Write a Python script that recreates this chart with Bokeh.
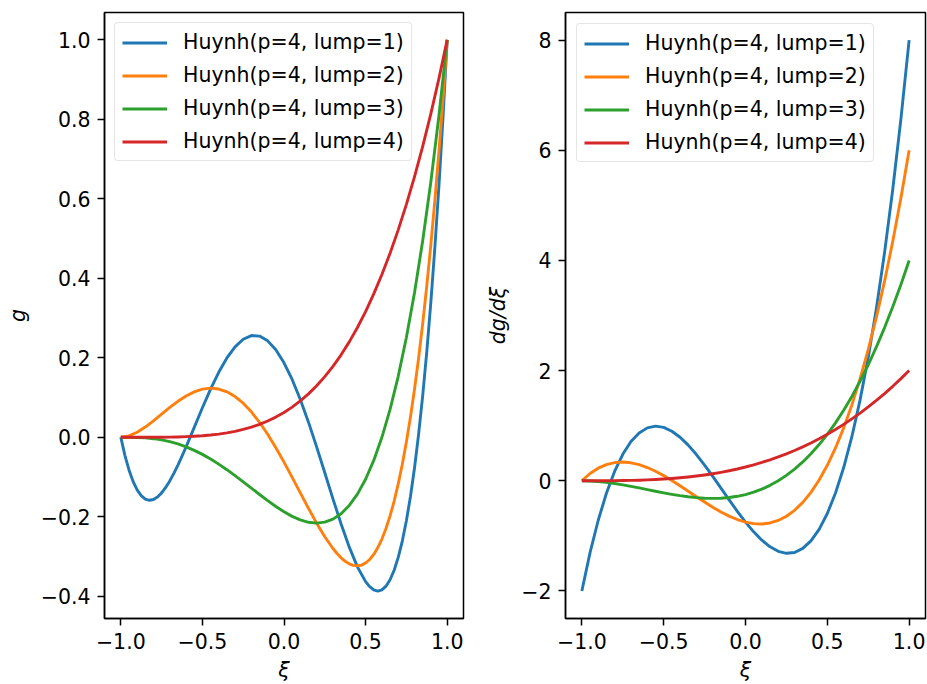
from bokeh.plotting import figure
from bokeh.layouts import row
from bokeh.models import Range1d, FixedTicker, CustomJSTickFormatter
from bokeh.embed import file_html
from bokeh.resources import INLINE

# ---------------- data ----------------
xi = [-1.0, -0.95, -0.9, -0.85, -0.8, -0.75, -0.7, -0.65, -0.6, -0.55, -0.5,
      -0.45, -0.4, -0.35, -0.3, -0.25, -0.2, -0.15, -0.1, -0.05, 0.0,
      0.05, 0.1, 0.15, 0.2, 0.25, 0.3, 0.35, 0.4, 0.45, 0.5,
      0.55, 0.6, 0.65, 0.7, 0.75, 0.8, 0.85, 0.9, 0.95, 1.0]

# lump=1 curve is read more densely where it bends sharply
xi_g1 = [-1.0, -0.975, -0.95, -0.925, -0.9, -0.875, -0.85, -0.825, -0.8, -0.775, -0.75,
         -0.725, -0.7, -0.675, -0.65, -0.625, -0.6,
         -0.55, -0.5, -0.45, -0.4, -0.35, -0.3, -0.25, -0.2, -0.15, -0.1, -0.05, 0.0,
         0.05, 0.1, 0.15, 0.2, 0.25, 0.3, 0.35, 0.4, 0.45, 0.5,
         0.525, 0.55, 0.575, 0.6, 0.625, 0.65, 0.675, 0.7, 0.725, 0.75, 0.775, 0.8,
         0.825, 0.85, 0.875, 0.9, 0.925, 0.95, 0.975, 1.0]
g_lump1 = [0.0, -0.0454, -0.0822, -0.1109, -0.1323, -0.1469, -0.1555, -0.1585, -0.1565, -0.1501, -0.1399,
           -0.1263, -0.1098, -0.0909, -0.0700, -0.0476, -0.0240,
           0.0250, 0.0742, 0.1211, 0.1635, 0.1996, 0.2277, 0.2468, 0.2560, 0.2547, 0.2427, 0.2202, 0.1875,
           0.1455, 0.0952, 0.0381, -0.0240, -0.0891, -0.1548, -0.2183, -0.2765, -0.3261, -0.3633,
           -0.3760, -0.3841, -0.3869, -0.3840, -0.3747, -0.3584, -0.3345, -0.3023, -0.2611, -0.2102, -0.1489, -0.0765,
           0.0078, 0.1049, 0.2154, 0.3402, 0.4802, 0.6363, 0.8092, 1.0]

xi_g2 = [-1.0, -0.95, -0.9, -0.85, -0.8, -0.75, -0.7, -0.65, -0.6, -0.55, -0.5,
         -0.45, -0.4, -0.35, -0.3, -0.25, -0.2, -0.15, -0.1, -0.05, 0.0,
         0.05, 0.1, 0.15, 0.2, 0.25, 0.3,
         0.325, 0.35, 0.375, 0.4, 0.425, 0.45, 0.475, 0.5, 0.525, 0.55, 0.575, 0.6, 0.625, 0.65,
         0.675, 0.7, 0.725, 0.75, 0.775, 0.8, 0.825, 0.85, 0.875, 0.9, 0.925, 0.95, 0.975, 1.0]
g_lump2 = [0.0, 0.0034, 0.0126, 0.0258, 0.0415, 0.0584, 0.0751, 0.0906, 0.1040, 0.1144, 0.1211,
           0.1236, 0.1215, 0.1145, 0.1026, 0.0857, 0.0640, 0.0378, 0.0076, -0.0261, -0.0625,
           -0.1008, -0.1399, -0.1787, -0.2160, -0.2502, -0.2799,
           -0.2925, -0.3033, -0.3120, -0.3185, -0.3224, -0.3236, -0.3217, -0.3164, -0.3075, -0.2947,
           -0.2776, -0.2560, -0.2295, -0.1978, -0.1606, -0.1174, -0.0680, -0.0120, 0.0511, 0.1215,
           0.1997, 0.2861, 0.3811, 0.4851, 0.5986, 0.7219, 0.8556, 1.0]

g_lump3 = [0.0, -0.0001, -0.0005, -0.0015, -0.0035, -0.0066, -0.0110, -0.0168, -0.0240, -0.0328, -0.0430,
           -0.0546, -0.0675, -0.0815, -0.0965, -0.1121, -0.1280, -0.1439, -0.1595, -0.1742, -0.1875,
           -0.1990, -0.2080, -0.2139, -0.2160, -0.2136, -0.2060, -0.1922, -0.1715, -0.1429, -0.1055,
           -0.0582, 0.0, 0.0702, 0.1535, 0.2512, 0.3645, 0.4947, 0.6430, 0.8110, 1.0]
g_lump4 = [0.0, 0.0, 0.0, 0.0, 0.0001, 0.0002, 0.0005, 0.0009, 0.0016, 0.0026, 0.0039,
           0.0057, 0.0081, 0.0112, 0.0150, 0.0198, 0.0256, 0.0326, 0.0410, 0.0509, 0.0625,
           0.0760, 0.0915, 0.1093, 0.1296, 0.1526, 0.1785, 0.2076, 0.2401, 0.2763, 0.3164,
           0.3608, 0.4096, 0.4633, 0.5220, 0.5862, 0.6561, 0.7321, 0.8145, 0.9037, 1.0]

dg_lump1 = [-2.0, -1.3052, -0.7163, -0.2267, 0.1700, 0.4805, 0.7113, 0.8689, 0.9600, 0.9911, 0.9688,
            0.8995, 0.7900, 0.6467, 0.4763, 0.2852, 0.0800, -0.1327, -0.3463, -0.5542, -0.7500,
            -0.9270, -1.0788, -1.1986, -1.2800, -1.3164, -1.3013, -1.2280, -1.0900, -0.8808, -0.5938,
            -0.2223, 0.2400, 0.7999, 1.4638, 2.2383, 3.1300, 4.1455, 5.2913, 6.5739, 8.0]
dg_lump2 = [0.0, 0.1317, 0.2288, 0.2939, 0.3300, 0.3398, 0.3263, 0.2920, 0.2400, 0.1730, 0.0938,
            0.0052, -0.0900, -0.1889, -0.2888, -0.3867, -0.4800, -0.5658, -0.6413, -0.7036, -0.7500,
            -0.7777, -0.7838, -0.7655, -0.7200, -0.6445, -0.5363, -0.3923, -0.2100, 0.0136, 0.2813,
            0.5958, 0.9600, 1.3767, 1.8488, 2.3789, 2.9700, 3.6248, 4.3463, 5.1370, 6.0]
dg_lump3 = [0.0, -0.0036, -0.0138, -0.0295, -0.0500, -0.0742, -0.1013, -0.1302, -0.1600, -0.1898, -0.2188,
            -0.2458, -0.2700, -0.2905, -0.3063, -0.3164, -0.3200, -0.3161, -0.3038, -0.2820, -0.2500,
            -0.2067, -0.1513, -0.0827, 0.0, 0.0977, 0.2113, 0.3417, 0.4900, 0.6570, 0.8438,
            1.0511, 1.2800, 1.5314, 1.8063, 2.1055, 2.4300, 2.7808, 3.1588, 3.5648, 4.0]
dg_lump4 = [0.0, 0.0, 0.0003, 0.0008, 0.0020, 0.0039, 0.0068, 0.0107, 0.0160, 0.0228, 0.0313,
            0.0416, 0.0540, 0.0687, 0.0858, 0.1055, 0.1280, 0.1535, 0.1823, 0.2143, 0.2500,
            0.2894, 0.3328, 0.3802, 0.4320, 0.4883, 0.5493, 0.6151, 0.6860, 0.7622, 0.8438,
            0.9310, 1.0240, 1.1230, 1.2283, 1.3398, 1.4580, 1.5829, 1.7148, 1.8537, 2.0]

series_labels = ["Huynh(p=4, lump=1)", "Huynh(p=4, lump=2)",
                 "Huynh(p=4, lump=3)", "Huynh(p=4, lump=4)"]
colors = ["#1f77b4", "#ff7f0e", "#2ca02c", "#d62728"]

x_ticks = [-1.0, -0.5, 0.0, 0.5, 1.0]
g_ticks = [-0.4, -0.2, 0.0, 0.2, 0.4, 0.6, 0.8, 1.0]
dg_ticks = [-2, 0, 2, 4, 6, 8]

FONT = "DejaVu Sans"
FS = "20.5px"


def fmt(digits):
    return CustomJSTickFormatter(code=(
        "const v = Math.abs(tick) < 1e-9 ? 0 : tick;"
        "return v.toFixed(%d).replace('-', '\\u2212');" % digits))


def style_axis(ax, ticks, digits, standoff, label_standoff):
    ax.ticker = FixedTicker(ticks=ticks, minor_ticks=[])
    ax.formatter = fmt(digits)
    ax.major_tick_out = 7
    ax.major_tick_in = 0
    ax.minor_tick_out = 0
    ax.minor_tick_in = 0
    ax.major_tick_line_color = "black"
    ax.major_tick_line_width = 1.5
    ax.axis_line_color = "black"
    ax.axis_line_width = 1.5
    ax.major_label_text_font = FONT
    ax.major_label_text_font_size = FS
    ax.major_label_text_color = "black"
    ax.major_label_standoff = standoff
    ax.axis_label_text_font = FONT
    ax.axis_label_text_font_size = FS
    ax.axis_label_text_font_style = "italic"
    ax.axis_label_text_color = "black"
    ax.axis_label_standoff = label_standoff


def make(width, yr, yticks, ydigits, ylabel, xs, ys, mb_left, mb_right, legend_margin):
    p = figure(width=width, height=684,
               x_range=Range1d(-1.1, 1.1), y_range=Range1d(*yr),
               output_backend="svg", toolbar_location=None,
               min_border_left=mb_left, min_border_right=mb_right,
               min_border_top=12, min_border_bottom=63)
    p.grid.visible = False
    p.background_fill_color = "white"
    p.border_fill_color = "white"
    p.outline_line_color = "black"
    p.outline_line_width = 1.5
    p.outline_line_alpha = 1.0
    for xv, yv, c, lab in zip(xs, ys, colors, series_labels):
        p.line(xv, yv, line_color=c, line_width=2.9, line_join="round", legend_label=lab)
    style_axis(p.xaxis[0], x_ticks, 1, 7, 6)
    style_axis(p.yaxis[0], yticks, ydigits, 7, 8)
    p.xaxis[0].axis_label = "ξ"
    p.yaxis[0].axis_label = ylabel
    lg = p.legend[0]
    lg.location = "top_left"
    lg.margin = legend_margin
    lg.padding = 7
    lg.spacing = 9
    lg.glyph_width = 45
    lg.glyph_height = 21
    lg.label_height = 21
    lg.label_standoff = 16
    lg.label_text_font = FONT
    lg.label_text_font_size = FS
    lg.label_text_color = "black"
    lg.border_line_color = "#cccccc"
    lg.border_line_width = 1.2
    lg.background_fill_color = "white"
    lg.background_fill_alpha = 0.8
    try:
        lg.border_radius = 4
    except Exception:
        pass
    return p


p1 = make(473, (-0.456, 1.069), g_ticks, 1, "g",
          [xi_g1, xi_g2, xi, xi], [g_lump1, g_lump2, g_lump3, g_lump4], 104, 10, 10)
p2 = make(454, (-2.5, 8.5), dg_ticks, 0, "dg/dξ",
          [xi, xi, xi, xi], [dg_lump1, dg_lump2, dg_lump3, dg_lump4], 92, 2, 11)

layout = row(p1, p2)
with open("out.html", "w", encoding="utf-8") as f:
    f.write(file_html(layout, INLINE))
